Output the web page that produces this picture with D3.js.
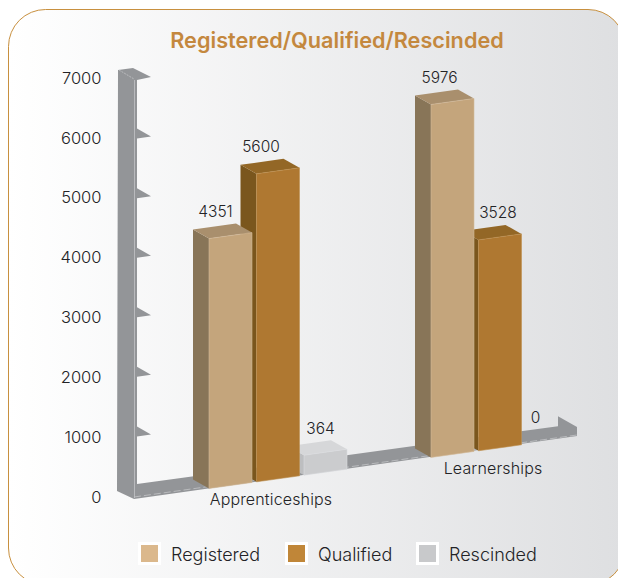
<!DOCTYPE html>
<html>
<head>
<meta charset="utf-8">
<script src="https://cdn.jsdelivr.net/npm/d3@7"></script>
<style>
  html, body { margin: 0; padding: 0; background: #fff; }
  svg { display: block; }
  text { font-family: Inter, "Liberation Sans", sans-serif; font-weight: 300; fill: #232326; }
</style>
</head>
<body>
<svg width="618" height="578"></svg>
<script>
const CATEGORIES = ['Apprenticeships', 'Learnerships'];
const SERIES = ['Registered', 'Qualified', 'Rescinded'];
const VALUE_TICKS = [0, 1000, 2000, 3000, 4000, 5000, 6000, 7000];

// numbers printed above the bars
const REGISTERED_LABELS = [4351, 5976];
const QUALIFIED_LABELS = [5600, 3528];
const RESCINDED_LABELS = [364, 0];

// bar heights read against the axis (the drawn bars do not quite agree with their printed numbers)
const REGISTERED_HEIGHTS = [4195, 5925];
const QUALIFIED_HEIGHTS = [5170, 3540];
const RESCINDED_HEIGHTS = [336, 0];

const COLORS = {
    Registered: { front: '#c4a57c', side: '#887558', top: '#a98f6d', key: '#dbb88c', edge: '#d3bb9b' },
    Qualified: { front: '#af7831', side: '#7a561d', top: '#936726', key: '#c08638', edge: '#c0904f' },
    Rescinded: { front: '#cbccce', side: '#bdbec0', top: '#d6d7d9', key: '#c8c9cb', edge: '#dcdde0' }
};

const rows = SERIES.map((name, i) => ({
    name,
    labels: [REGISTERED_LABELS, QUALIFIED_LABELS, RESCINDED_LABELS][i],
    heights: [REGISTERED_HEIGHTS, QUALIFIED_HEIGHTS, RESCINDED_HEIGHTS][i]
}));

const svg = d3.select('svg');

// panel
const defs = svg.append('defs');
const grad = defs.append('linearGradient').attr('id', 'panel');
grad.append('stop').attr('offset', '0').attr('stop-color', '#ffffff');
grad.append('stop').attr('offset', '1').attr('stop-color', '#dedfe1');

svg.append('rect')
    .attr('x', 8.5).attr('y', 9.5)
    .attr('width', 616.5).attr('height', 575.5)
    .attr('rx', 37).attr('ry', 37)
    .attr('fill', 'url(#panel)')
    .attr('stroke', '#c8903f');

svg.append('text')
    .text('Registered/Qualified/Rescinded')
    .attr('x', 337).attr('y', 47.5)
    .attr('text-anchor', 'middle')
    .style('font-size', '21.7px')
    .style('font-weight', 600)
    .style('fill', '#c4883e');

// scales
const y = d3.scaleLinear().domain([0, 7000]).range([494, 77]);
const yLabels = d3.scaleLinear().domain([0, 7000]).range([497, 78]);
const x0 = d3.scaleBand().domain(CATEGORIES).range([198, 642]);
const x1 = d3.scaleBand().domain(SERIES).range([11, 149]).paddingInner(0.095);

// the floor runs uphill to the right, every bar stands on that front edge
const FLOOR_LEFT = 134, FLOOR_RIGHT = 577;
const floorY = d3.scaleLinear().domain([FLOOR_LEFT, FLOOR_RIGHT]).range([499, 437]);
const DEPTH = { x: -16, y: -9 };

const poly = pts => pts.map(p => p.join(',')).join(' ');
const chart = svg.append('g');

// value axis wall
const WALL = '#939598', WALL_X = 137, FLOOR_BACK_X = 558;
const wallTop = y(7000);
chart.append('polygon')
    .attr('fill', WALL)
    .attr('points', poly([
        [118, wallTop - 7], [133, wallTop - 9], [151, wallTop], [WALL_X, wallTop + 3],
        [WALL_X, floorY(WALL_X) - 14.5], [FLOOR_BACK_X, floorY(FLOOR_BACK_X) - 13.5],
        [FLOOR_BACK_X, floorY(FLOOR_BACK_X) - 23.5],
        [FLOOR_RIGHT, floorY(FLOOR_RIGHT) - 10], [FLOOR_RIGHT, floorY(FLOOR_RIGHT) - 1],
        [FLOOR_LEFT, floorY(FLOOR_LEFT)], [117, floorY(FLOOR_LEFT) - 8]
    ]));

chart.selectAll('.tick-mark')
    .data(VALUE_TICKS.filter(d => d > 0 && d < 7000))
    .join('polygon')
    .attr('class', 'tick-mark')
    .attr('fill', WALL)
    .attr('points', d => poly([[WALL_X, y(d) - 8], [151, y(d)], [WALL_X, y(d) + 2]]));

// light seams on the wall and floor
const seam = chart.append('g')
    .attr('fill', 'none')
    .attr('stroke', '#c3c4c6')
    .attr('stroke-width', 0.8);
seam.append('line')
    .attr('x1', 134.5).attr('x2', 134.5)
    .attr('y1', wallTop + 3).attr('y2', floorY(FLOOR_LEFT) - 1);
seam.append('line')
    .attr('x1', 119).attr('x2', 134)
    .attr('y1', wallTop - 7).attr('y2', wallTop + 2)
    .attr('stroke-dasharray', '2 1');
seam.append('line')
    .attr('x1', FLOOR_LEFT).attr('x2', FLOOR_RIGHT)
    .attr('y1', floorY(FLOOR_LEFT) - 2).attr('y2', floorY(FLOOR_RIGHT) - 2)
    .attr('stroke-dasharray', '7 3');

// value labels, no axis line
const yAxis = svg.append('g')
    .attr('transform', 'translate(101.5,0)')
    .call(d3.axisLeft(yLabels).tickValues(VALUE_TICKS).tickFormat(d => d).tickSize(0).tickPadding(0));
yAxis.select('.domain').remove();
yAxis.selectAll('text').style('font-size', '16.5px').style('font-family', null).attr('fill', null);

// flatten to bars, right to left so the nearer left bars cover the sides behind them
const bars = [];
CATEGORIES.forEach((cat, c) => {
    rows.forEach(row => {
        const left = x0(cat) + x1(row.name);
        bars.push({ cat, name: row.name, label: row.labels[c], value: row.heights[c], left, right: left + x1.bandwidth() });
    });
});
bars.reverse();

const h = d => y(0) - y(d.value);
const barGroups = chart.selectAll('.bar')
    .data(bars.filter(d => d.value > 0))
    .join('g')
    .attr('class', 'bar');

barGroups.append('polygon')
    .attr('fill', d => COLORS[d.name].side)
    .attr('points', d => {
        const b = floorY(d.left), t = b - h(d);
        return poly([[d.left, b], [d.left, t], [d.left + DEPTH.x, t + DEPTH.y], [d.left + DEPTH.x, b + DEPTH.y]]);
    });
barGroups.append('polygon')
    .attr('fill', d => COLORS[d.name].top)
    .attr('points', d => {
        const tl = floorY(d.left) - h(d), tr = floorY(d.right) - h(d);
        return poly([[d.left, tl], [d.right, tr], [d.right + DEPTH.x, tr + DEPTH.y], [d.left + DEPTH.x, tl + DEPTH.y]]);
    });
barGroups.append('polygon')
    .attr('fill', d => COLORS[d.name].front)
    .attr('stroke', d => COLORS[d.name].edge)
    .attr('stroke-width', 0.6)
    .attr('points', d => poly([
        [d.left, floorY(d.left)], [d.right, floorY(d.right)],
        [d.right, floorY(d.right) - h(d)], [d.left, floorY(d.left) - h(d)]
    ]));

// printed numbers sit above the back of each top face
const LABEL_NUDGE = { '4351': -7, '5600': -9, '364': 3, '5976': -5, '3528': 6, '0': -4 };
svg.selectAll('.bar-label')
    .data(bars)
    .join('text')
    .attr('class', 'bar-label')
    .text(d => d.label)
    .attr('x', d => (d.left + DEPTH.x + d.right) / 2 + LABEL_NUDGE[d.label])
    .attr('y', d => floorY(d.right) - h(d) + DEPTH.y - 6.5)
    .attr('text-anchor', 'middle')
    .style('font-size', '15.5px');

svg.selectAll('.cat-label')
    .data(CATEGORIES)
    .join('text')
    .attr('class', 'cat-label')
    .text(d => d)
    .attr('x', d => x0(d) + x0.bandwidth() / 2 - 38)
    .attr('y', d => floorY(x0(d) + x0.bandwidth() / 2 - 38) + 25.5)
    .attr('text-anchor', 'middle')
    .style('font-size', '16px')
    .style('letter-spacing', '0.15px');

// legend
const LEGEND_X = [138, 285, 416];
const legend = svg.selectAll('.key')
    .data(SERIES)
    .join('g')
    .attr('class', 'key')
    .attr('transform', (d, i) => `translate(${LEGEND_X[i]},542)`);
legend.append('rect')
    .attr('x', 1.5).attr('y', 1.5)
    .attr('width', 20).attr('height', 20)
    .attr('fill', d => COLORS[d].key)
    .attr('stroke', '#fff')
    .attr('stroke-width', 3);
legend.append('text')
    .text(d => d)
    .attr('x', 33)
    .attr('y', 18.5)
    .style('font-size', '18px');
</script>
</body>
</html>
